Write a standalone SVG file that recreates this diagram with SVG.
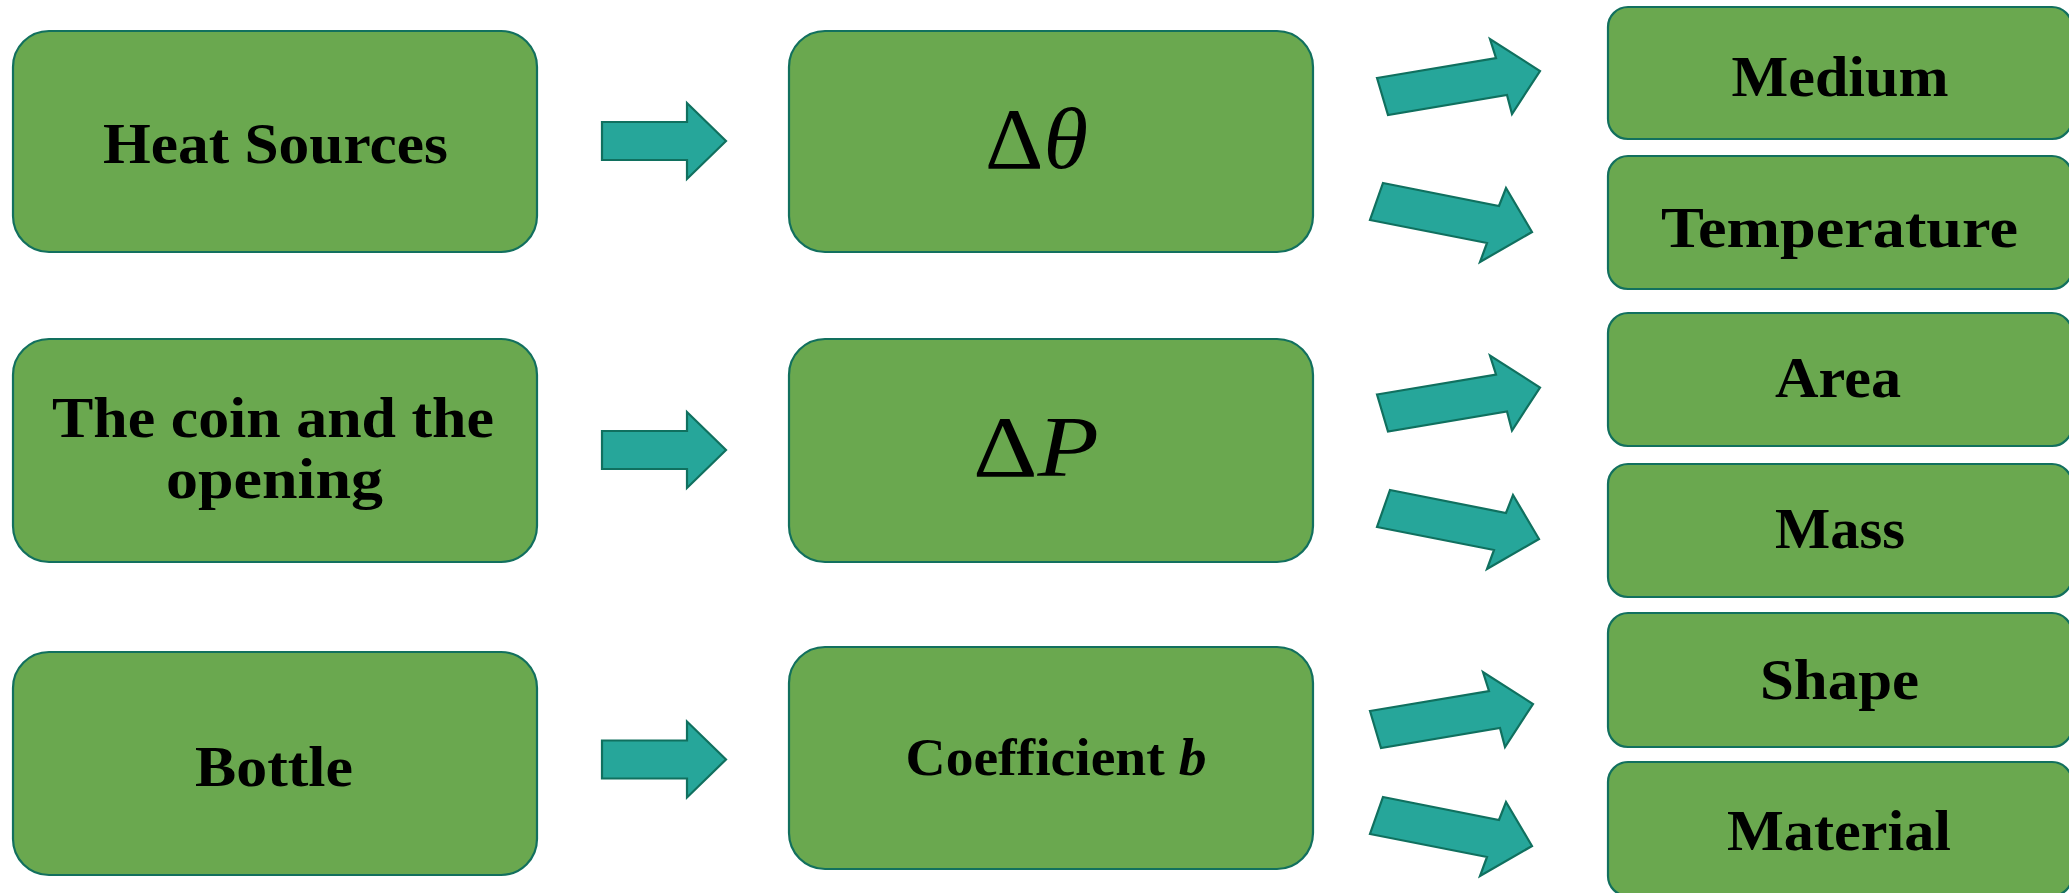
<svg xmlns="http://www.w3.org/2000/svg" width="2069" height="893" viewBox="0 0 2069 893">
<style>
.box{fill:#6aa84f;stroke:#12705e;stroke-width:2.2}
.arr{fill:#26a69a;stroke:#10705f;stroke-width:2.2;stroke-linejoin:miter}
.t{font-family:"Liberation Serif","Times New Roman",serif;font-weight:bold;fill:#000;text-anchor:middle;font-size:58px}
.m{font-family:"Liberation Serif","Times New Roman",serif;fill:#000;text-anchor:middle;font-size:86px}
</style>
<defs>
<polygon id="ha" points="602,122 687,122 687,103 726,141 687,179 687,160 602,160"/>
<polygon id="ua" points="1377,78 1496,58 1490,39 1540,71 1512,114 1507,95 1388,115"/>
<polygon id="da" points="1383,183 1499,206 1506,188 1532,232 1480,262 1487,243 1370,220"/>
</defs>
<rect width="2069" height="893" fill="#fff"/>
<g id="connectors">
<use href="#ha" class="arr"/>
<use href="#ha" class="arr" transform="translate(0,309)"/>
<use href="#ha" class="arr" transform="translate(0,618.5)"/>
<use href="#ua" class="arr"/>
<use href="#da" class="arr"/>
<use href="#ua" class="arr" transform="translate(0,316.5)"/>
<use href="#da" class="arr" transform="translate(7,307)"/>
<use href="#ua" class="arr" transform="translate(-7,633)"/>
<use href="#da" class="arr" transform="translate(0,614)"/>
</g>
<g id="heat-sources"><rect class="box" x="13" y="31" width="524" height="221" rx="36"/><text class="t" x="275.5" y="163" textLength="345" lengthAdjust="spacingAndGlyphs">Heat Sources</text></g>
<g id="coin-opening"><rect class="box" x="13" y="339" width="524" height="223" rx="36"/><text class="t" x="273" y="437" textLength="442" lengthAdjust="spacingAndGlyphs">The coin and the</text><text class="t" x="274.5" y="498" textLength="217" lengthAdjust="spacingAndGlyphs">opening</text></g>
<g id="bottle"><rect class="box" x="13" y="652" width="524" height="223" rx="36"/><text class="t" x="274" y="786" textLength="158" lengthAdjust="spacingAndGlyphs">Bottle</text></g>
<g id="delta-theta"><rect class="box" x="789" y="31" width="524" height="221" rx="36"/><text class="m" x="1036.5" y="168" textLength="103" lengthAdjust="spacingAndGlyphs">Δ<tspan font-style="italic">θ</tspan></text></g>
<g id="delta-p"><rect class="box" x="789" y="339" width="524" height="223" rx="36"/><text class="m" x="1036" y="476" textLength="126" lengthAdjust="spacingAndGlyphs">Δ<tspan font-style="italic">P</tspan></text></g>
<g id="coefficient-b"><rect class="box" x="789" y="647" width="524" height="222" rx="36"/><text class="t" x="1056" y="775" style="font-size:53px" textLength="301" lengthAdjust="spacingAndGlyphs">Coefficient <tspan font-style="italic">b</tspan></text></g>
<g id="medium"><rect class="box" x="1608" y="7" width="464" height="132" rx="20"/><text class="t" x="1840" y="96" textLength="217" lengthAdjust="spacingAndGlyphs">Medium</text></g>
<g id="temperature"><rect class="box" x="1608" y="156" width="464" height="133" rx="20"/><text class="t" x="1839.5" y="247" textLength="357" lengthAdjust="spacingAndGlyphs">Temperature</text></g>
<g id="area"><rect class="box" x="1608" y="313" width="464" height="133" rx="20"/><text class="t" x="1838" y="397" textLength="126" lengthAdjust="spacingAndGlyphs">Area</text></g>
<g id="mass"><rect class="box" x="1608" y="464" width="464" height="133" rx="20"/><text class="t" x="1840" y="548" textLength="130" lengthAdjust="spacingAndGlyphs">Mass</text></g>
<g id="shape"><rect class="box" x="1608" y="613" width="464" height="134" rx="20"/><text class="t" x="1839.5" y="699" textLength="159" lengthAdjust="spacingAndGlyphs">Shape</text></g>
<g id="material"><rect class="box" x="1608" y="762" width="464" height="134" rx="20"/><text class="t" x="1839" y="850" textLength="224" lengthAdjust="spacingAndGlyphs">Material</text></g>
</svg>
